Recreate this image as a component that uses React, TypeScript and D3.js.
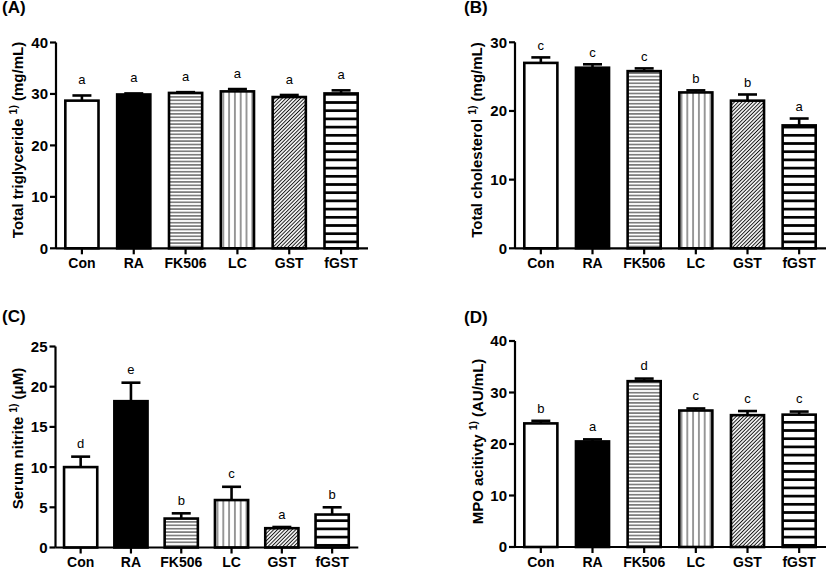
import React from 'react';
import * as d3 from 'd3';

const FONT = "'Liberation Sans', Arial, Helvetica, sans-serif";

const categories = ['Con', 'RA', 'FK506', 'LC', 'GST', 'fGST'];

const triglycerideMeans = [28.7, 29.9, 30.2, 30.5, 29.4, 30.1];
const triglycerideSems = [1.0, 0.2, 0.15, 0.45, 0.4, 0.6];
const triglycerideLetters = ['a', 'a', 'a', 'a', 'a', 'a'];
const triglycerideTicks = [0, 10, 20, 30, 40];

const cholesterolMeans = [27.0, 26.3, 25.8, 22.7, 21.5, 17.9];
const cholesterolSems = [0.8, 0.5, 0.4, 0.3, 0.9, 1.0];
const cholesterolLetters = ['c', 'c', 'c', 'b', 'b', 'a'];
const cholesterolTicks = [0, 10, 20, 30];

const nitriteMeans = [10.0, 18.2, 3.6, 5.9, 2.4, 4.1];
const nitriteSems = [1.3, 2.3, 0.65, 1.65, 0.15, 0.9];
const nitriteLetters = ['d', 'e', 'b', 'c', 'a', 'b'];
const nitriteTicks = [0, 5, 10, 15, 20, 25];

const mpoMeans = [24.0, 20.5, 32.2, 26.5, 25.6, 25.7];
const mpoSems = [0.5, 0.4, 0.5, 0.4, 0.8, 0.6];
const mpoLetters = ['b', 'a', 'd', 'c', 'c', 'c'];
const mpoTicks = [0, 10, 20, 30, 40];

const fills = ['#ffffff', '#000000', 'url(#pHz)', 'url(#pVt)', 'url(#pDg)', 'url(#pThick)'];

type PanelCfg = {
  tag: string;
  tagX: number;
  tagY: number;
  xRange: [number, number];
  yRange: [number, number];
  yMax: number;
  pad: number;
  ticks: number[];
  means: number[];
  sems: number[];
  letters: string[];
  letterGap: number;
  title: string;
  unit: string;
  titleX: number;
  titleY: number;
};

const panels: PanelCfg[] = [
  {
    tag: '(A)', tagX: 2, tagY: 13,
    xRange: [56, 367], yRange: [248.3, 42.5], yMax: 40, pad: 0.36,
    ticks: triglycerideTicks, means: triglycerideMeans, sems: triglycerideSems,
    letters: triglycerideLetters, letterGap: 10,
    title: 'Total triglyceride', unit: '(mg/mL)', titleX: 23, titleY: 140,
  },
  {
    tag: '(B)', tagX: 464, tagY: 13,
    xRange: [515, 825], yRange: [248.3, 42.3], yMax: 30, pad: 0.36,
    ticks: cholesterolTicks, means: cholesterolMeans, sems: cholesterolSems,
    letters: cholesterolLetters, letterGap: 6,
    title: 'Total cholesterol', unit: '(mg/mL)', titleX: 481.5, titleY: 140,
  },
  {
    tag: '(C)', tagX: 2, tagY: 322,
    xRange: [55.5, 357.3], yRange: [547.5, 346.5], yMax: 25, pad: 0.34,
    ticks: nitriteTicks, means: nitriteMeans, sems: nitriteSems,
    letters: nitriteLetters, letterGap: 7,
    title: 'Serum nitrite', unit: '(\u03bcM)', titleX: 23, titleY: 438.5,
  },
  {
    tag: '(D)', tagX: 464, tagY: 323,
    xRange: [515, 825], yRange: [547, 341], yMax: 40, pad: 0.36,
    ticks: mpoTicks, means: mpoMeans, sems: mpoSems,
    letters: mpoLetters, letterGap: 7,
    title: 'MPO acitivty', unit: '(AU/mL)', titleX: 482.5, titleY: 441.5,
  },
];

function Panel({ cfg }: { cfg: PanelCfg }) {
  const x = d3
    .scaleBand<string>()
    .domain(categories)
    .range(cfg.xRange)
    .paddingInner(cfg.pad)
    .paddingOuter(cfg.pad / 2);
  const y = d3.scaleLinear().domain([0, cfg.yMax]).range(cfg.yRange);
  const x0 = cfg.xRange[0];
  const bw = x.bandwidth();
  const capW = 19;
  const sw = 2.6;
  return (
    <g>
      <text x={cfg.tagX} y={cfg.tagY} fontFamily={FONT} fontWeight="bold" fontSize={17}>
        {cfg.tag}
      </text>
      {categories.map((c, i) => {
        const bx = x(c) as number;
        const top = y(cfg.means[i]);
        const capY = y(cfg.means[i] + cfg.sems[i]);
        const cx = bx + bw / 2;
        return (
          <g key={c}>
            <line x1={cx} x2={cx} y1={top} y2={capY} stroke="#000" strokeWidth={sw} />
            <line x1={cx - capW / 2} x2={cx + capW / 2} y1={capY} y2={capY} stroke="#000" strokeWidth={sw} />
            <rect
              x={bx}
              y={top}
              width={bw}
              height={y(0) - top}
              fill={fills[i]}
              stroke="#000"
              strokeWidth={sw}
            />
            <text
              x={cx}
              y={capY - sw / 2 - cfg.letterGap}
              textAnchor="middle"
              fontFamily={FONT}
              fontSize={13}
              fill="#000"
            >
              {cfg.letters[i]}
            </text>
          </g>
        );
      })}
      <line x1={x0} x2={x0} y1={y(0)} y2={y(cfg.yMax)} stroke="#000" strokeWidth={2.2} />
      {cfg.ticks.map((t) => (
        <g key={t}>
          <line x1={x0 - 6} x2={x0} y1={y(t)} y2={y(t)} stroke="#000" strokeWidth={2.2} />
          <text
            x={x0 - 8}
            y={y(t)}
            dy="0.36em"
            textAnchor="end"
            fontFamily={FONT}
            fontWeight="bold"
            fontSize={15}
          >
            {t}
          </text>
        </g>
      ))}
      <line x1={x0} x2={cfg.xRange[1] + 1} y1={y(0)} y2={y(0)} stroke="#000" strokeWidth={2.2} />
      {categories.map((c) => {
        const cx = (x(c) as number) + bw / 2;
        return (
          <g key={c}>
            <line x1={cx} x2={cx} y1={y(0)} y2={y(0) + 6} stroke="#000" strokeWidth={2.2} />
            <text
              x={cx}
              y={y(0) + 19.5}
              textAnchor="middle"
              fontFamily={FONT}
              fontWeight="bold"
              fontSize={14}
            >
              {c}
            </text>
          </g>
        );
      })}
      <text
        transform={`translate(${cfg.titleX},${cfg.titleY}) rotate(-90)`}
        textAnchor="middle"
        fontFamily={FONT}
        fontWeight="bold"
        fontSize={15}
      >
        <tspan>{cfg.title}</tspan>
        <tspan dx={4} dy={-6} fontSize={10.5}>1)</tspan>
        <tspan dx={4} dy={6}>{cfg.unit}</tspan>
      </text>
    </g>
  );
}

export default function App() {
  return (
    <svg
      width={827}
      height={567}
      viewBox="0 0 827 567"
      style={{ position: 'absolute', left: 0, top: 0, display: 'block', background: '#fff' }}
    >
      <defs>
        <pattern id="pHz" patternUnits="userSpaceOnUse" width={4} height={3.4}>
          <rect width={4} height={3.4} fill="#fff" />
          <line x1={0} x2={4} y1={1.7} y2={1.7} stroke="#222" strokeWidth={1} />
        </pattern>
        <pattern id="pVt" patternUnits="userSpaceOnUse" width={5.8} height={4}>
          <rect width={5.8} height={4} fill="#fff" />
          <line x1={2.9} x2={2.9} y1={0} y2={4} stroke="#333" strokeWidth={1} />
        </pattern>
        <pattern id="pDg" patternUnits="userSpaceOnUse" width={2.6} height={4} patternTransform="rotate(45)">
          <rect width={2.6} height={4} fill="#fff" />
          <line x1={1.3} x2={1.3} y1={0} y2={4} stroke="#111" strokeWidth={1} />
        </pattern>
        <pattern id="pThick" patternUnits="userSpaceOnUse" width={4} height={8.2}>
          <rect width={4} height={8.2} fill="#fff" />
          <rect x={0} y={2.75} width={4} height={2.7} fill="#000" />
        </pattern>
      </defs>
      {panels.map((p) => (
        <Panel key={p.tag} cfg={p} />
      ))}
    </svg>
  );
}
